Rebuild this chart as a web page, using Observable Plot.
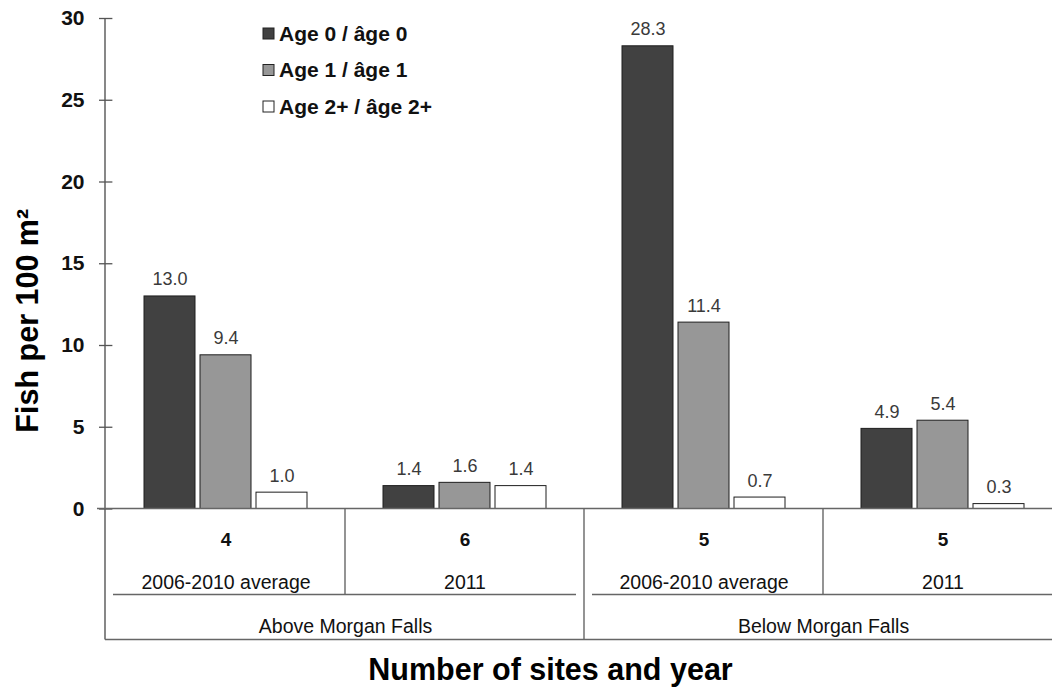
<!DOCTYPE html>
<html>
<head>
<meta charset="utf-8">
<script src="https://cdn.jsdelivr.net/npm/d3@7"></script>
<script src="https://cdn.jsdelivr.net/npm/@observablehq/plot@0.6"></script>
<style>
  html, body { margin: 0; padding: 0; background: #fff; overflow: hidden; }
  svg { font-family: "Liberation Sans", Arial, sans-serif; }
</style>
</head>
<body>
<div id="chart"></div>
<script>
// ---- data ----
const groups = ["A1", "A2", "B1", "B2"];
const sites = ["4", "6", "5", "5"];
const years = ["2006-2010 average", "2011", "2006-2010 average", "2011"];
const regionGroups = ["A1", "B1"];
const regions = ["Above Morgan Falls", "Below Morgan Falls"];
const ages = ["Age 0 / âge 0", "Age 1 / âge 1", "Age 2+ / âge 2+"];
const age0 = [13.0, 1.4, 28.3, 4.9];
const age1 = [9.4, 1.6, 11.4, 5.4];
const age2 = [1.0, 1.4, 0.7, 0.3];
const yTicks = [0, 5, 10, 15, 20, 25, 30];
const colors = ["#414141", "#979797", "#ffffff"];
const yTitle = "Fish per 100 m²";
const xTitle = "Number of sites and year";

const series = [age0, age1, age2];
const data = groups.flatMap((g, i) => series.map((s, k) => ({g, age: ages[k], value: s[i]})));
const groupRows = groups.map((g, i) => ({g, site: sites[i], year: years[i]}));
const regionRows = regions.map((r, i) => ({g: regionGroups[i], label: r}));

const W = 1052, H = 692, ML = 105, MR = -11.5, MT = 18, MB = 183.5;
const facetW = (W - ML - MR) / groups.length;
const font = "'Liberation Sans', Arial, sans-serif";

const plot = Plot.plot({
  width: W, height: H,
  marginLeft: ML, marginRight: MR, marginTop: MT, marginBottom: MB,
  style: {fontFamily: font, background: "#fff", overflow: "visible"},
  fx: {domain: groups, padding: 0, axis: null},
  x: {domain: ages, paddingInner: 0.088, paddingOuter: 0.665, axis: null},
  y: {domain: [0, 30], axis: null},
  color: {domain: ages, range: colors},
  marks: [
    Plot.barY(data, {fx: "g", x: "age", y: "value", fill: "age", stroke: "#1e1e1e", strokeWidth: 1}),
    Plot.text(data, {fx: "g", x: "age", y: "value", text: d => d.value.toFixed(1),
      dy: -11, lineAnchor: "bottom", fontSize: 18, fill: "#3a3a3a"}),
    Plot.axisY({ticks: yTicks, tickSize: 7, tickPadding: 15, fontSize: 21, fontWeight: "bold",
      stroke: "#555", strokeWidth: 1.3, fill: "#111", label: null}),
    Plot.ruleY(yTicks.map(v => ({v, g: "A1"})), {fx: "g", y: "v", insetRight: facetW - 7,
      stroke: "#555", strokeWidth: 1.3}),
    Plot.text(groupRows, {fx: "g", text: "site", frameAnchor: "bottom", dy: 37, lineAnchor: "bottom",
      fontSize: 19, fontWeight: "bold", fill: "#111"}),
    Plot.text(groupRows, {fx: "g", text: "year", frameAnchor: "bottom", dy: 80, lineAnchor: "bottom",
      fontSize: 19.5, fill: "#111"}),
    Plot.text(regionRows, {fx: "g", text: "label", frameAnchor: "bottom-right", textAnchor: "middle",
      dy: 124, lineAnchor: "bottom", fontSize: 19.5, fill: "#111"}),
    Plot.text([{g: "B1"}], {fx: "g", text: () => xTitle, frameAnchor: "bottom-left", textAnchor: "middle",
      dx: -34, dy: 171, lineAnchor: "bottom", fontSize: 30.5, fontWeight: "bold", fill: "#000"}),
    Plot.text([{g: "A1"}], {fx: "g", text: () => yTitle, frameAnchor: "left", textAnchor: "middle",
      rotate: -90, dx: -78, dy: 57, lineAnchor: "middle", fontSize: 30.5, fontWeight: "bold", fill: "#000"})
  ]
});

document.getElementById("chart").appendChild(plot);

// ---- structural lines (table under the axis), positioned through Plot's scales ----
const svg = d3.select(plot);
const fx = plot.scale("fx"), y = plot.scale("y");
const y0 = y.apply(0), yTop = y.apply(30);
const rowLine = y0 + 86, bottomLine = y0 + 131;
const gx = g => fx.apply(g);
const lines = svg.append("g").attr("stroke", "#666").attr("stroke-width", 1.4).attr("fill", "none");
const L = (x1, y1, x2, y2) => lines.append("line").attr("x1", x1).attr("y1", y1).attr("x2", x2).attr("y2", y2);
L(ML, yTop, ML, bottomLine).attr("stroke", "#555");
L(ML - 8, y0, W, y0);
L(gx("A2"), y0, gx("A2"), rowLine);
L(gx("B1"), y0, gx("B1"), bottomLine);
L(gx("B2"), y0, gx("B2"), rowLine);
L(gx("A1") + 7, rowLine, gx("B1") - 8, rowLine);
L(gx("B1") + 8, rowLine, W, rowLine);
L(ML, bottomLine, W, bottomLine);

// ---- legend ----
const color = plot.scale("color");
const leg = svg.append("g").attr("transform", "translate(263,28)");
ages.forEach((a, i) => {
  const row = leg.append("g").attr("transform", `translate(0,${i * 36.5})`);
  row.append("rect").attr("width", 11).attr("height", 11)
    .attr("fill", color.apply(a)).attr("stroke", "#222").attr("stroke-width", 1);
  row.append("text").attr("x", 16).attr("y", 12.5).attr("font-size", 21).attr("font-weight", "bold")
    .attr("text-anchor", "start").attr("fill", "#111").attr("font-family", font).text(a);
});
</script>
</body>
</html>
